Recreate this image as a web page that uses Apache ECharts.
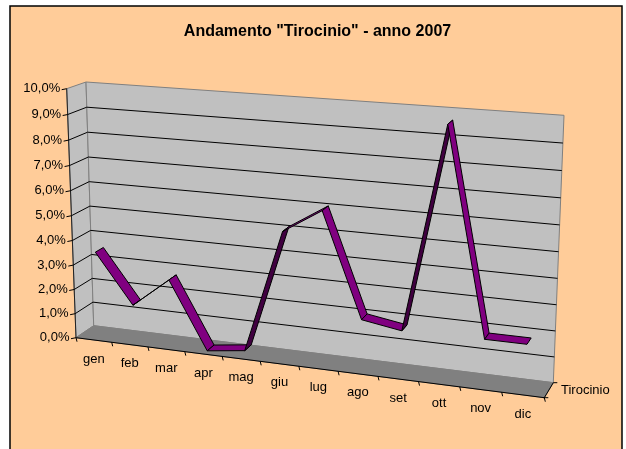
<!DOCTYPE html>
<html>
<head>
<meta charset="utf-8">
<style>
  html, body { margin: 0; padding: 0; background: #fff; }
  #chart { width: 626px; height: 449px; }
</style>
<script src="https://cdn.jsdelivr.net/npm/echarts@6/dist/echarts.min.js"></script>
</head>
<body>
<div id="chart"></div>
<script>
const months = ["gen", "feb", "mar", "apr", "mag", "giu", "lug", "ago", "set", "ott", "nov", "dic"];
const tirocinio = [3.5, 1.5, 2.7, 0.0, 0.2, 5.1, 6.05, 2.0, 1.75, 9.65, 1.8, 1.8];
const yTicks = [0, 1, 2, 3, 4, 5, 6, 7, 8, 9, 10];
const yTickLabels = ["0,0%", "1,0%", "2,0%", "3,0%", "4,0%", "5,0%", "6,0%", "7,0%", "8,0%", "9,0%", "10,0%"];
const xBounds = [0, 1, 2, 3, 4, 5, 6, 7, 8, 9, 10, 11, 12];
const seriesName = "Tirocinio";

const font = '13px "Liberation Sans"';

// corners of the 3D box as drawn: bottom left, bottom right, top right, top left
const frontWall = quad([76, 337.7], [544.3, 397.7], [555.5, 125], [66.7, 88.7]);
const backWall = quad([93.7, 325.7], [553.3, 382.7], [564, 115.3], [86, 82]);

// unit square to quad (projective)
function quad(p0, p1, p2, p3) {
  const dx1 = p1[0] - p2[0], dx2 = p3[0] - p2[0], sx = p0[0] - p1[0] + p2[0] - p3[0];
  const dy1 = p1[1] - p2[1], dy2 = p3[1] - p2[1], sy = p0[1] - p1[1] + p2[1] - p3[1];
  const den = dx1 * dy2 - dx2 * dy1;
  const g = (sx * dy2 - dx2 * sy) / den;
  const h = (dx1 * sy - sx * dy1) / den;
  const a = p1[0] - p0[0] + g * p1[0], b = p3[0] - p0[0] + h * p3[0];
  const d = p1[1] - p0[1] + g * p1[1], e = p3[1] - p0[1] + h * p3[1];
  return (u, v) => {
    const w = g * u + h * v + 1;
    return [(a * u + b * v + p0[0]) / w, (d * u + e * v + p0[1]) / w];
  };
}

// data value -> hidden grid pixel (library scales) -> box position at a depth (0 front, 1 back)
function project(api, x, y, depth) {
  const p = api.coord([x, y]);
  const u = p[0] / api.getWidth();
  const v = 1 - p[1] / api.getHeight();
  const f = frontWall(u, v);
  const b = backWall(u, v);
  return [f[0] + (b[0] - f[0]) * depth, f[1] + (b[1] - f[1]) * depth];
}

function line(a, b, color, width) {
  return {
    type: "line",
    shape: { x1: a[0], y1: a[1], x2: b[0], y2: b[1] },
    style: { stroke: color, lineWidth: width || 1 },
  };
}

function poly(points, fill, stroke) {
  return {
    type: "polygon",
    shape: { points },
    style: { fill, stroke: stroke || fill, lineWidth: 1 },
  };
}

function label(text, x, y, align) {
  return {
    type: "text",
    style: { text, x, y, align, verticalAlign: "middle", font, fill: "#000" },
  };
}

const chart = echarts.init(document.getElementById("chart"));
chart.setOption({
  animation: false,
  backgroundColor: "#fff",
  title: {
    text: 'Andamento "Tirocinio" - anno 2007',
    left: 312.5,
    top: 19,
    textAlign: "center",
    textStyle: { fontFamily: "Liberation Sans", fontSize: 16, fontWeight: "bold", color: "#000" },
  },
  graphic: [
    {
      type: "rect",
      z: -10,
      shape: { x: 10, y: 6, width: 612, height: 460 },
      style: { fill: "#FFCC99", stroke: "#000", lineWidth: 1.5 },
    },
  ],
  grid: { left: 0, right: 0, top: 0, bottom: 0 },
  xAxis: { type: "value", min: 0, max: 12, show: false },
  yAxis: { type: "value", min: 0, max: 10, show: false },
  series: [
    {
      // walls and floor
      type: "custom",
      silent: true,
      data: [[0, 0]],
      renderItem: (params, api) => {
        const p = (x, y, d) => project(api, x, y, d);
        return {
          type: "group",
          children: [
            poly([p(0, 0, 0), p(0, 0, 1), p(0, 10, 1), p(0, 10, 0)], "#C0C0C0", "#808080"),
            poly([p(0, 0, 1), p(12, 0, 1), p(12, 10, 1), p(0, 10, 1)], "#C0C0C0", "#808080"),
            poly([p(0, 0, 0), p(12, 0, 0), p(12, 0, 1), p(0, 0, 1)], "#808080", "#808080"),
            line(p(0, 0, 0), p(12, 0, 0), "#000", 1),
            line(p(0, 0, 0), p(0, 10, 0), "#222", 1),
          ],
        };
      },
    },
    {
      // horizontal gridlines with their ticks and labels
      type: "custom",
      silent: true,
      data: yTicks.map((t, i) => [0, t, i]),
      renderItem: (params, api) => {
        const y = api.value(1);
        const front = project(api, 0, y, 0);
        const back = project(api, 0, y, 1);
        const end = project(api, 12, y, 1);
        const children = [
          line([front[0] - 5, front[1] + 1], front, "#000", 1),
          label(yTickLabels[api.value(2)], front[0] - 6.5, front[1], "right"),
        ];
        if (y > 0 && y < 10) {
          children.push(line(front, back, "#000", 1), line(back, end, "#000", 1));
        }
        return { type: "group", children };
      },
    },
    {
      // category ticks
      type: "custom",
      silent: true,
      data: xBounds.map((x) => [x, 0]),
      renderItem: (params, api) => {
        const a = project(api, api.value(0), 0, 0);
        return line(a, [a[0] + 1, a[1] + 4], "#000", 1);
      },
    },
    {
      // category labels
      type: "custom",
      silent: true,
      data: months.map((m, i) => [i + 0.5, 0, i]),
      renderItem: (params, api) => {
        const a = project(api, api.value(0), 0, 0);
        return label(months[api.value(2)], a[0], a[1] + 19, "center");
      },
    },
    {
      // depth axis with the series name
      type: "custom",
      silent: true,
      data: [[12, 0]],
      renderItem: (params, api) => {
        const f = project(api, 12, 0, 0);
        const b = project(api, 12, 0, 1);
        return {
          type: "group",
          children: [
            line(f, b, "#000", 1),
            line([f[0] - 1, f[1]], [f[0] + 4, f[1]], "#000", 1),
            line([b[0], b[1]], [b[0] + 4, b[1]], "#000", 1),
            label(seriesName, 561, (f[1] + b[1]) / 2, "left"),
          ],
        };
      },
    },
    {
      // ribbon: one face per segment, dark when its underside shows
      name: seriesName,
      type: "custom",
      silent: true,
      data: tirocinio.slice(0, -1).map((v, i) => [i + 0.5, v, i + 1.5, tirocinio[i + 1]]),
      renderItem: (params, api) => {
        const d0 = 0.25, d1 = 0.7;
        const a = project(api, api.value(0), api.value(1), d0);
        const b = project(api, api.value(2), api.value(3), d0);
        const c = project(api, api.value(2), api.value(3), d1);
        const d = project(api, api.value(0), api.value(1), d1);
        const cross = (b[0] - a[0]) * (d[1] - a[1]) - (b[1] - a[1]) * (d[0] - a[0]);
        return poly([a, b, c, d], cross < 0 ? "#800080" : "#400040", "#000");
      },
    },
  ],
});
</script>
</body>
</html>
